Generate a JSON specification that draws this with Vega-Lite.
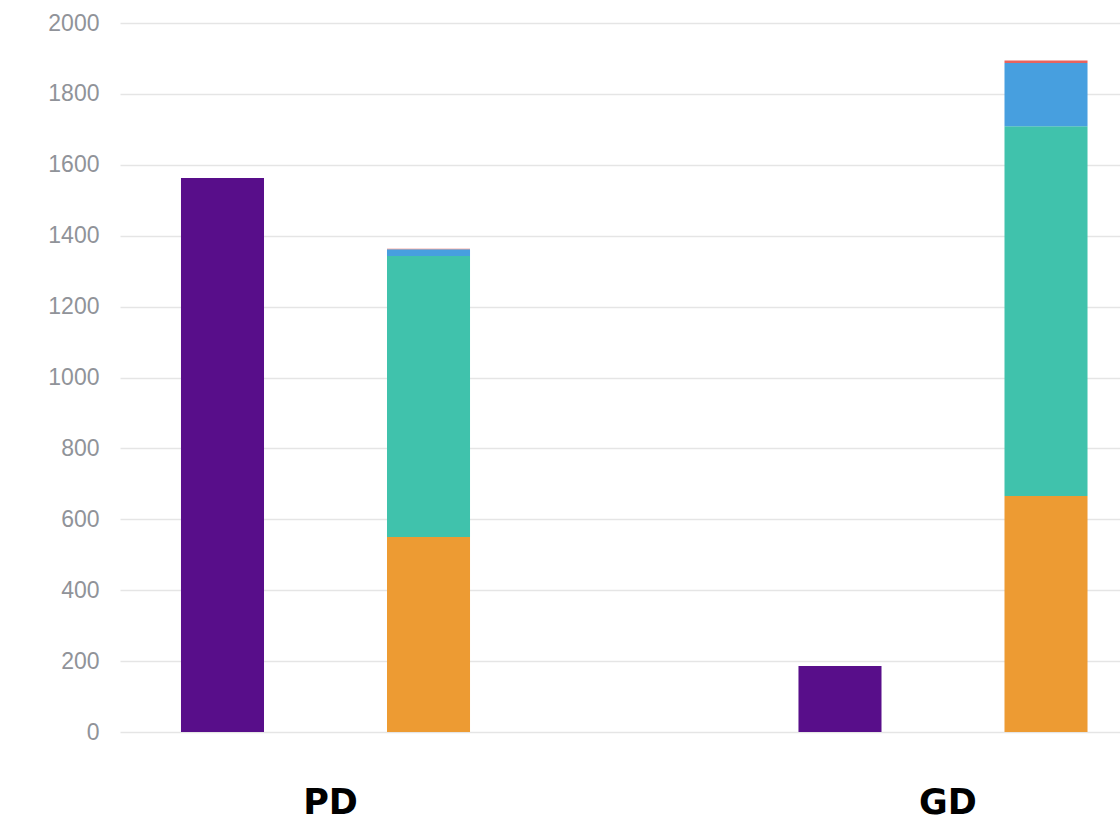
{
  "$schema": "https://vega.github.io/schema/vega-lite/v6.json",
  "width": 1000,
  "height": 709,
  "autosize": {"type": "none"},
  "padding": {"left": 120, "top": 23, "right": 0, "bottom": 85},
  "background": "white",
  "config": {"view": {"stroke": null}},
  "data": {
    "values": [
      {"group": "PD", "series": "A", "segment": "p", "value": 1563},
      {"group": "PD", "series": "B", "segment": "s1", "value": 550},
      {"group": "PD", "series": "B", "segment": "s2", "value": 793},
      {"group": "PD", "series": "B", "segment": "s3", "value": 19},
      {"group": "PD", "series": "B", "segment": "s4", "value": 1.5},
      {"group": "GD", "series": "A", "segment": "p", "value": 186},
      {"group": "GD", "series": "B", "segment": "s1", "value": 666},
      {"group": "GD", "series": "B", "segment": "s2", "value": 1043},
      {"group": "GD", "series": "B", "segment": "s3", "value": 178},
      {"group": "GD", "series": "B", "segment": "s4", "value": 7}
    ]
  },
  "mark": {"type": "bar"},
  "encoding": {
    "x": {
      "field": "group",
      "type": "nominal",
      "sort": ["PD", "GD"],
      "scale": {"domain": ["PD", "GD"], "range": [0, 1028.5], "paddingInner": 0.3344, "paddingOuter": 0},
      "axis": {
        "title": null,
        "ticks": false,
        "domain": false,
        "labelAngle": 0,
        "labelFont": "DejaVu Sans",
        "labelFontWeight": "bold",
        "labelFontSize": 35,
        "labelColor": "#000000",
        "labelPadding": 53,
        "labelOffset": 5
      }
    },
    "xOffset": {
      "field": "series",
      "type": "nominal",
      "scale": {"domain": ["A", "B"], "paddingInner": 0.597, "paddingOuter": 0.296}
    },
    "y": {
      "field": "value",
      "type": "quantitative",
      "stack": "zero",
      "scale": {"domain": [0, 2000], "nice": false},
      "axis": {
        "title": null,
        "ticks": false,
        "domain": false,
        "format": "d",
        "values": [0, 200, 400, 600, 800, 1000, 1200, 1400, 1600, 1800, 2000],
        "labelFont": "Liberation Sans",
        "labelFontSize": 23,
        "labelColor": "#909399",
        "labelPadding": 21,
        "gridColor": "#e5e5e5",
        "gridWidth": 1.5
      }
    },
    "color": {
      "field": "segment",
      "type": "nominal",
      "scale": {
        "domain": ["p", "s1", "s2", "s3", "s4"],
        "range": ["#580E8A", "#ED9B33", "#40C2AC", "#479FDF", "#E8635E"]
      },
      "legend": null
    },
    "order": {"field": "segment", "sort": "ascending"}
  }
}
